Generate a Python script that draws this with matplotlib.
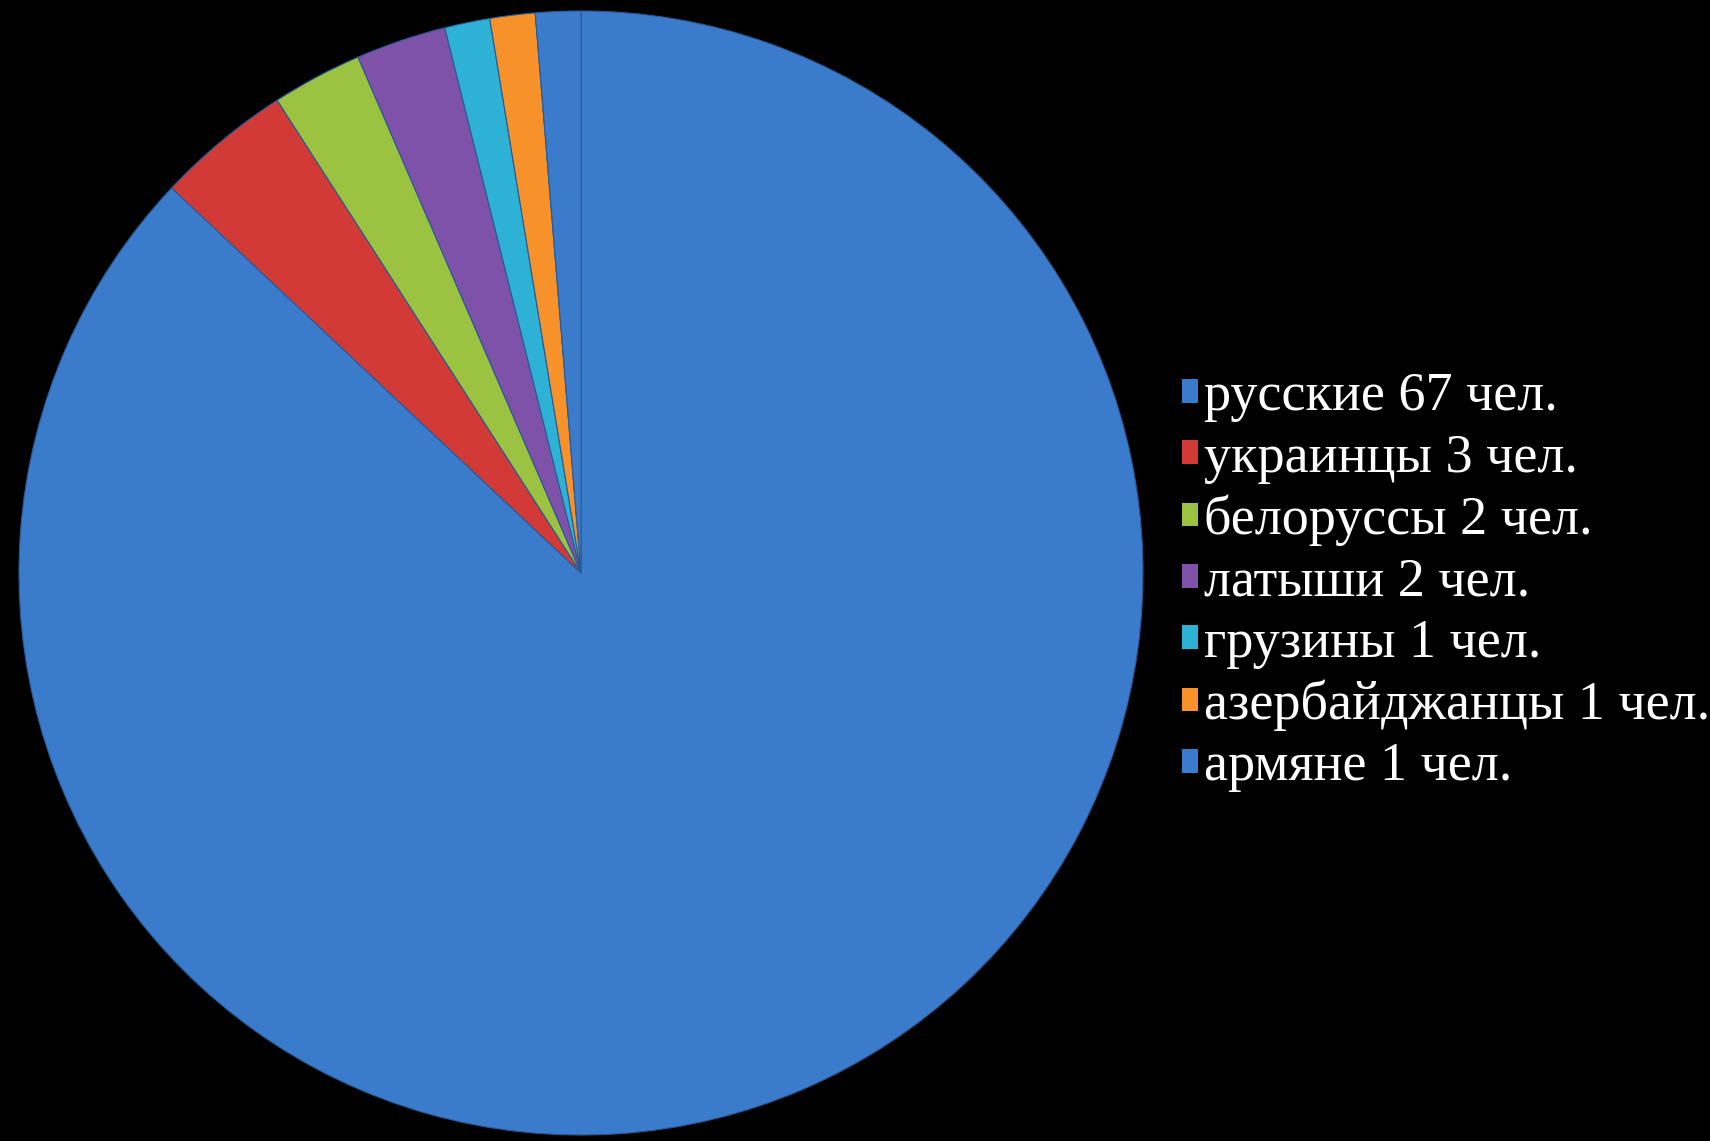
import matplotlib.pyplot as plt
from matplotlib.patches import Patch

labels = ['русские 67 чел.', 'украинцы 3 чел.', 'белоруссы 2 чел.', 'латыши 2 чел.',
          'грузины 1 чел.', 'азербайджанцы 1 чел.', 'армяне 1 чел.']
values = [67, 3, 2, 2, 1, 1, 1]
colors = ['#3B7BCB', '#D23A37', '#9BC240', '#7E52A9', '#2DB1D5', '#F7922A', '#3B7BCB']

W, H = 1710, 1141
fig = plt.figure(figsize=(W / 100, H / 100), dpi=100, facecolor='black')

cx, cy, r = 581, 573, 562
ax = fig.add_axes([(cx - r) / W, (H - cy - r) / H, 2 * r / W, 2 * r / H])
ax.set_facecolor('black')
wedges, _ = ax.pie(values, colors=colors, startangle=90, counterclock=False,
                   radius=1, wedgeprops=dict(edgecolor='#2a5a95', linewidth=0.8))
ax.set_xlim(-1, 1)
ax.set_ylim(-1, 1)
ax.set_aspect('equal')
ax.axis('off')

handles = [Patch(facecolor=c, edgecolor='none') for c in colors]
leg = fig.legend(handles, labels, loc='center left', bbox_to_anchor=(1182 / W, 1 - 582 / H),
                 frameon=False, handlelength=0.3, handleheight=0.3, handletextpad=0.1,
                 labelspacing=0.2, borderpad=0, borderaxespad=0,
                 prop=dict(family='Liberation Serif', size=39))
for t in leg.get_texts():
    t.set_color('white')

fig.savefig('out.png', dpi=100, facecolor='black')
